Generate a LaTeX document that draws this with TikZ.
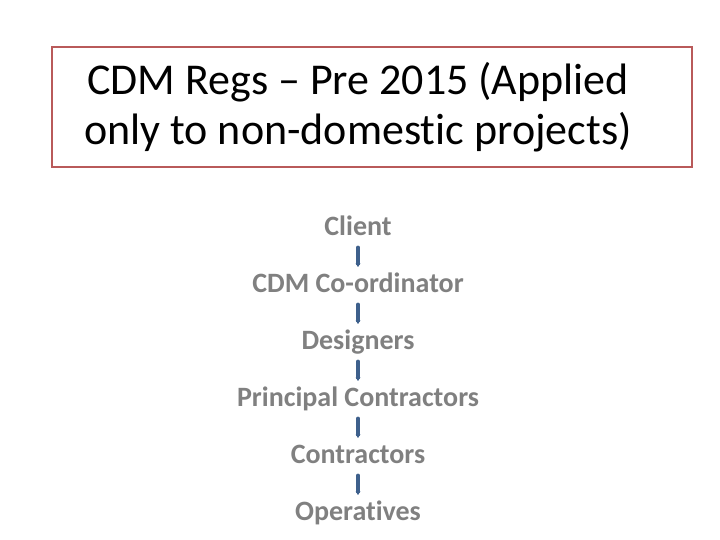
\documentclass[tikz,border=0pt]{standalone}
\usepackage{fontspec}
\setmainfont{Carlito}[Ligatures={NoCommon,NoContextual}, Contextuals=NoAlternate]
\usetikzlibrary{positioning, arrows.meta}
\definecolor{boxred}{RGB}{185,90,90}
\definecolor{itemgray}{RGB}{128,128,128}
\definecolor{arrowblue}{RGB}{62,96,140}

\begin{document}
\begin{tikzpicture}[x=1pt, y=1pt,
    item/.style={font=\fontsize{28}{32}\selectfont\bfseries, text=itemgray,
        inner sep=0pt, text height=20pt, text depth=6pt},
    down/.style={draw=arrowblue, line width=3.2pt, line cap=round,
        -{Latex[length=4pt, width=6pt, round]}, shorten <=5pt, shorten >=6pt}]
    \useasboundingbox (0,0) rectangle (720,540);

    % title box
    \draw[boxred, line width=2.5pt] (52,373) rectangle (692,493);
    \node[align=center, font=\fontsize{44}{50}\selectfont] (title) at (358,433)
        {CDM Regs -- Pre 2015 (Applied\\only to non-domestic projects)};

    % chain of duty holders
    \node[item] (client) at (358,311) {Client};
    \node[item] (coord) at (358,254) {CDM Co-ordinator};
    \node[item] (designers) at (358,197) {Designers};
    \node[item] (principal) at (358,140) {Principal Contractors};
    \node[item] (contractors) at (358,83) {Contractors};
    \node[item] (operatives) at (358,26) {Operatives};

    \draw[down] (client) -- (coord);
    \draw[down] (coord) -- (designers);
    \draw[down] (designers) -- (principal);
    \draw[down] (principal) -- (contractors);
    \draw[down] (contractors) -- (operatives);
\end{tikzpicture}
\end{document}
